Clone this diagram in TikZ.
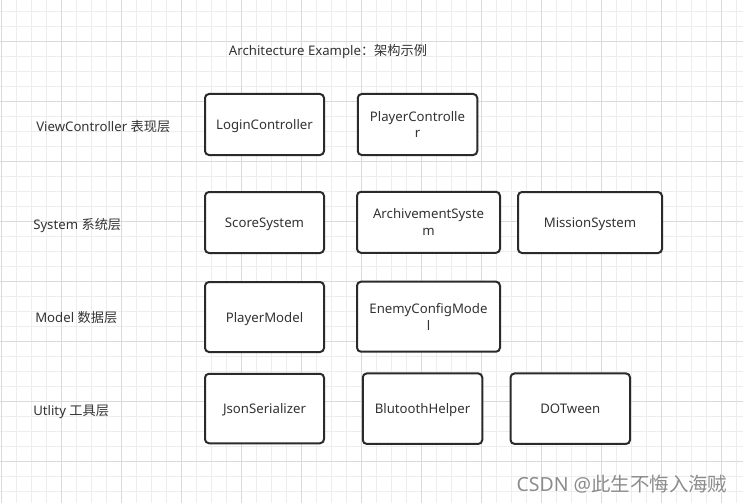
\documentclass[tikz,border=0pt]{standalone}
\usepackage{fontspec}
\setmainfont{Noto Sans}
\newfontfamily\cjk{Noto Sans CJK SC}
\definecolor{gridminor}{HTML}{EDEDED}
\definecolor{gridmajor}{HTML}{DADADA}
\definecolor{txt}{HTML}{333333}
\definecolor{edge}{HTML}{2A2A2A}
\definecolor{wm}{HTML}{8C8C8C}
\tikzset{
  minorline/.style={gridminor, line width=0.75pt},
  majorline/.style={gridmajor, line width=0.75pt},
  layerbox/.style n args={2}{draw=edge, line width=1.5pt, rounded corners=3pt, fill=white,
    minimum width=#1*0.75pt, minimum height=#2*0.75pt, inner sep=1pt, align=center,
    text depth=0pt, text=txt, font=\fontsize{9.9pt}{12.5pt}\selectfont},
  layerlabel/.style={anchor=west, inner sep=0pt, text depth=0pt, text=txt, font=\fontsize{9.9pt}{12.5pt}\selectfont},
}
\begin{document}
\begin{tikzpicture}[x=0.75pt, y=-0.75pt]
\useasboundingbox (0,0) rectangle (743,503);
\fill[white] (0,0) rectangle (743,503);
% grid
\foreach \i in {0,...,49} \draw[minorline] (1.7+15*\i,0) -- (1.7+15*\i,503);
\foreach \j in {0,...,33} \draw[minorline] (0,11.7+15*\j) -- (743,11.7+15*\j);
\foreach \i in {0,...,12} \draw[majorline] (1.7+60*\i,0) -- (1.7+60*\i,503);
\foreach \j in {0,...,8} \draw[majorline] (0,41.7+60*\j) -- (743,41.7+60*\j);

% title
\node[text=txt, inner sep=0pt, text depth=0pt, font=\fontsize{9.9pt}{12.5pt}\selectfont] (title) at (328,50) {Architecture Example{\cjk ：架构示例}};

% layer labels
\node[layerlabel] (lvc) at (36,126) {ViewController {\cjk 表现层}};
\node[layerlabel] (lsys) at (33,224) {System {\cjk 系统层}};
\node[layerlabel] (lmod) at (35,317) {Model {\cjk 数据层}};
\node[layerlabel] (lut) at (33,410) {Utlity {\cjk 工具层}};

% boxes
\node[layerbox={119}{61}] (login) at (264.5,124.5) {LoginController};
\node[layerbox={119.5}{61}] (pctrl) at (417.5,124.5) {PlayerControlle\\r};

\node[layerbox={119}{61}] (score) at (264.5,222.5) {ScoreSystem};
\node[layerbox={143}{61}] (arch) at (428.5,222.3) {ArchivementSyste\\m};
\node[layerbox={144}{61}] (mission) at (590,222.5) {MissionSystem};

\node[layerbox={119}{70}] (pmodel) at (264.5,317) {PlayerModel};
\node[layerbox={143}{70}] (emodel) at (428.5,316.7) {EnemyConfigMode\\l};

\node[layerbox={119}{69.5}] (json) at (264.5,408.5) {JsonSerializer};
\node[layerbox={119.5}{70.5}] (blue) at (422.5,408.7) {BlutoothHelper};
\node[layerbox={119.5}{70.5}] (dot) at (570.3,408.7) {DOTween};

% watermark
\node[text=white, inner sep=0pt, font=\fontsize{14.6pt}{17pt}\selectfont] (wmshadow) at (623,485) {CSDN @{\cjk 此生不悔入海贼}};
\node[text=wm, inner sep=0pt, font=\fontsize{14.6pt}{17pt}\selectfont] (wmark) at (622,484) {CSDN @{\cjk 此生不悔入海贼}};
\end{tikzpicture}
\end{document}
